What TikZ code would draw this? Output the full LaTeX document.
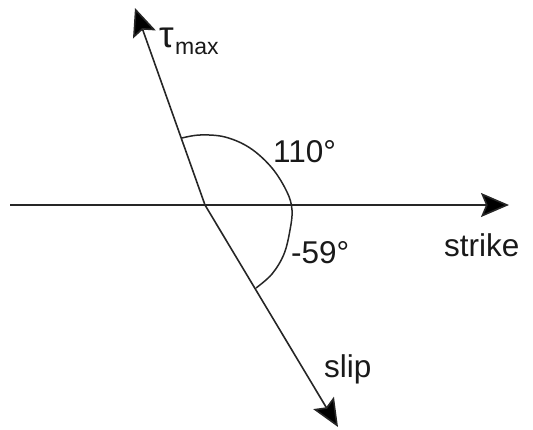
\documentclass[tikz,border=0pt]{standalone}
\usepackage{fontspec}
\setmainfont{Liberation Sans}
\usetikzlibrary{arrows.meta}
\begin{document}
\begin{tikzpicture}[x=1pt,y=-1pt,
  axis/.style={line width=1.6pt,draw=black!85,-{Stealth[length=28pt,width=24pt,inset=5pt,fill=black]}},
  arcline/.style={line width=1.5pt,draw=black!85},
  lbl/.style={inner sep=0pt,anchor=base west,font=\fontsize{31.5}{31.5}\selectfont,text=black!90}]
\useasboundingbox (0,0) rectangle (533,429);
\coordinate (O) at (205,205);
\coordinate (L) at (10,205);
\coordinate (R) at (509,205);
\coordinate (T) at (135,8);
\coordinate (S) at (338,427);
\draw[axis] (L) -- (R);
\draw[axis] (O) -- (T);
\draw[axis] (O) -- (S);
\draw[arcline] plot[smooth,tension=0.6] coordinates {(182,138) (200,135) (225,137) (250,148) (272,168) (287,192) (292,210) (290,230) (284,254) (272,274) (256,288)};
\node[lbl] (a110) at (273,162) {110°};
\node[lbl] (a59) at (291,263) {-59°};
\node[lbl] (strike) at (444,256) {strike};
\node[lbl] (slip) at (324,377) {slip};
\node[lbl,font=\fontsize{37}{37}\selectfont] (tau) at (159,47) {τ};
\node[lbl,font=\fontsize{23}{23}\selectfont] (max) at (175,54) {max};
\end{tikzpicture}
\end{document}
